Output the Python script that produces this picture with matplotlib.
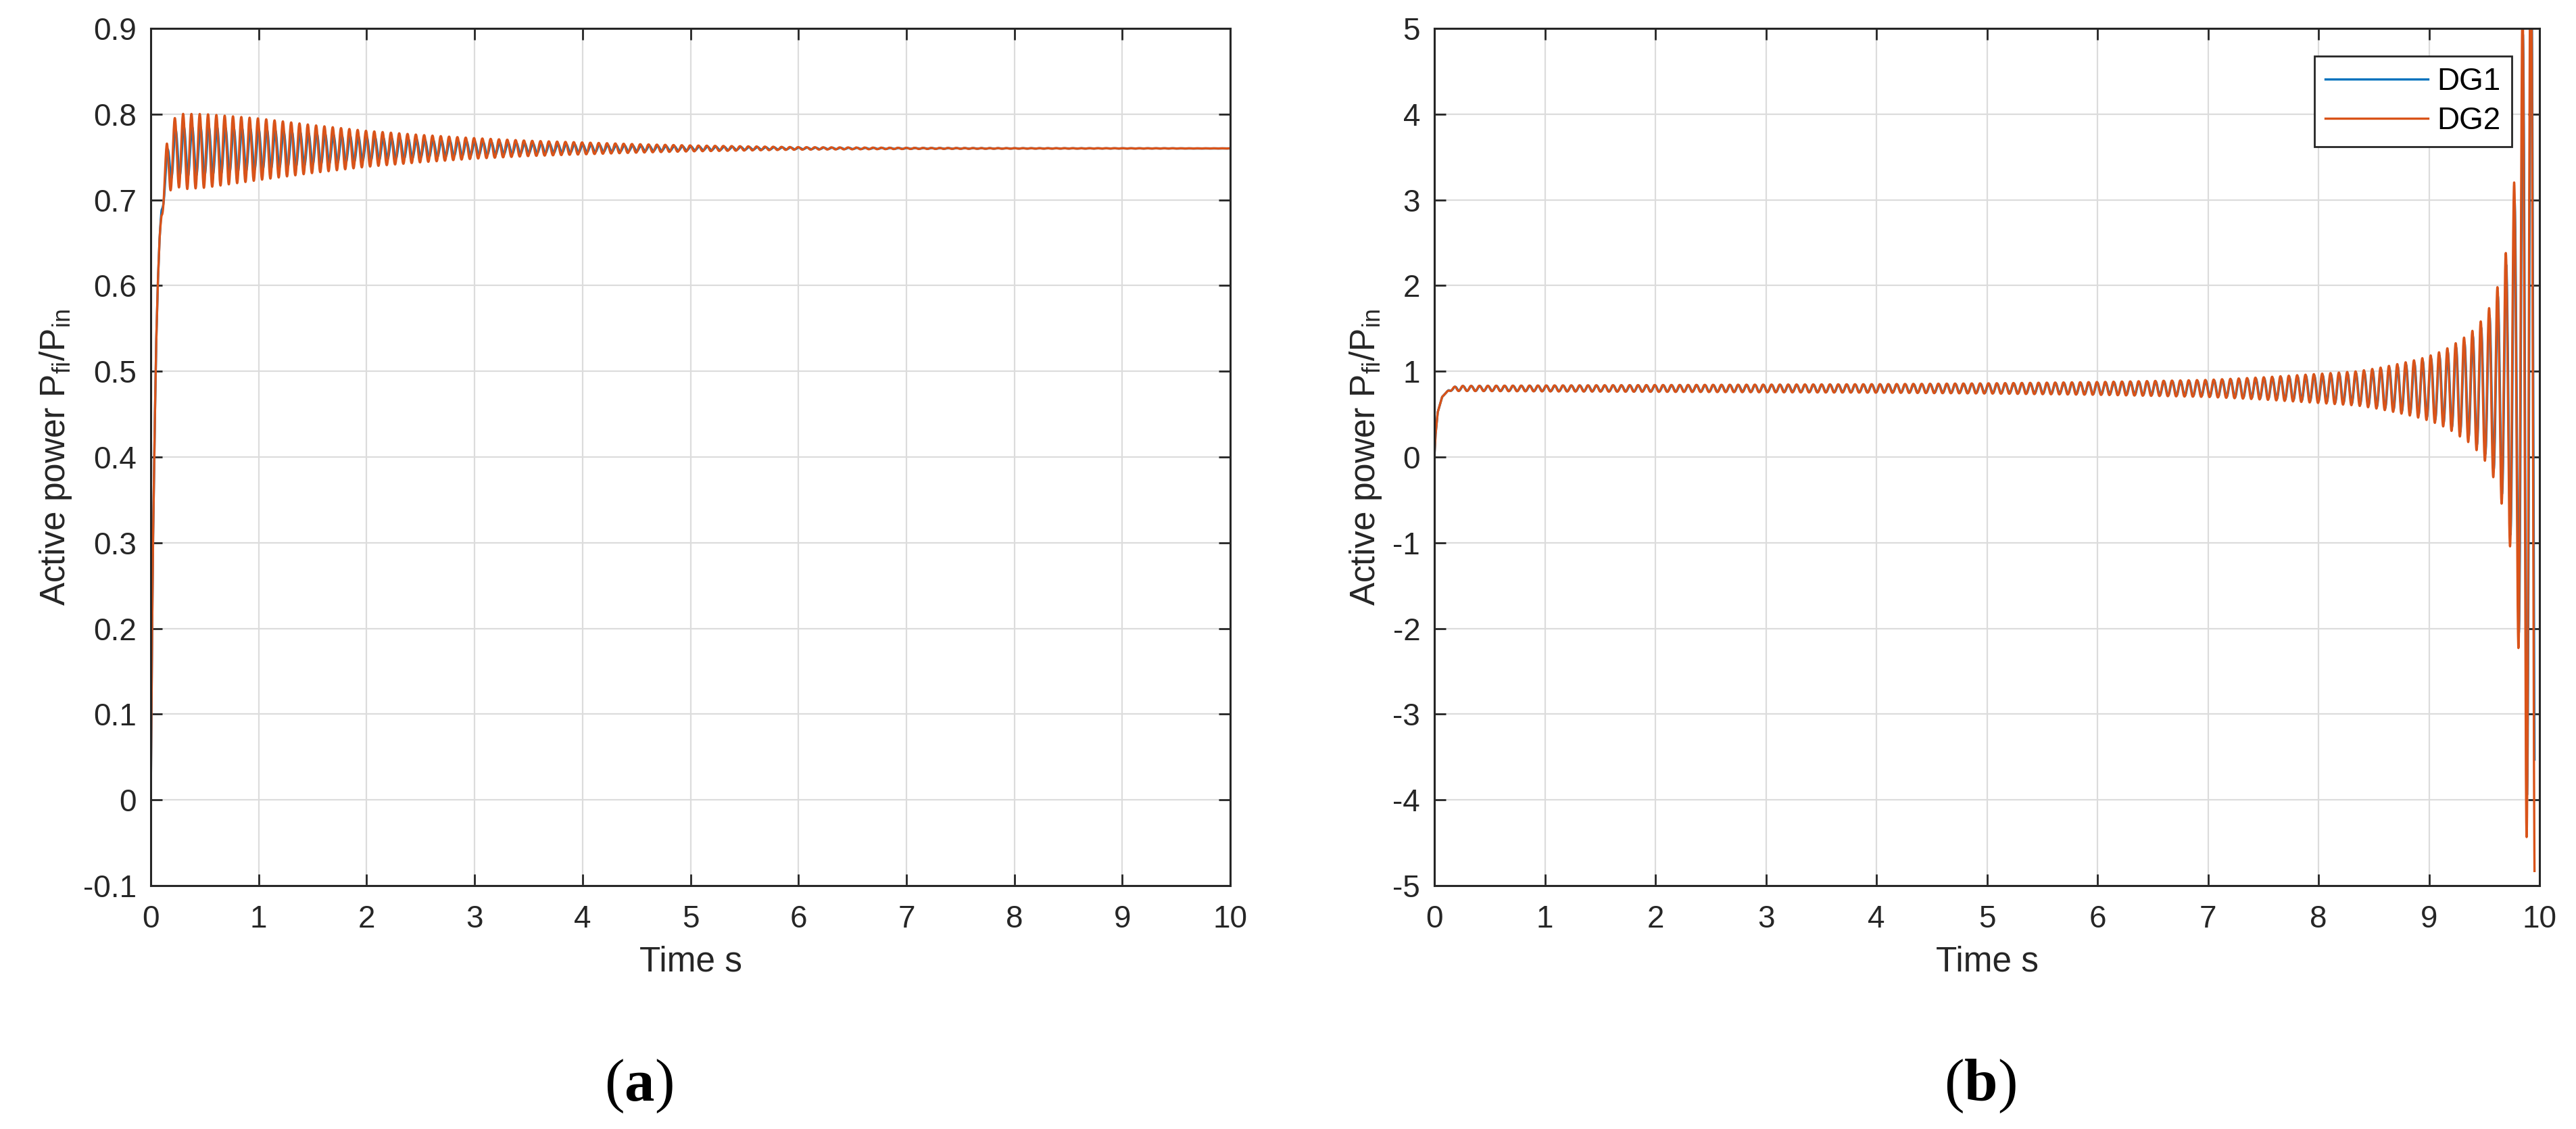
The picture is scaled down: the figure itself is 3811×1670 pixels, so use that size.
import numpy as np
import matplotlib
matplotlib.use('Agg')
import matplotlib.pyplot as plt

plt.rcParams['font.family'] = ['Liberation Sans', 'DejaVu Sans']
plt.rcParams['mathtext.fontset'] = 'custom'
plt.rcParams['mathtext.rm'] = 'Liberation Sans'
plt.rcParams['mathtext.it'] = 'Liberation Sans:italic'
plt.rcParams['mathtext.bf'] = 'Liberation Serif:bold'
plt.rcParams['axes.unicode_minus'] = False

# ---------------- data ----------------
series_names = ['DG1', 'DG2']
x_ticks = list(range(0, 11))
a_y_ticks = [-0.1, 0, 0.1, 0.2, 0.3, 0.4, 0.5, 0.6, 0.7, 0.8, 0.9]
a_y_labels = ['-0.1', '0', '0.1', '0.2', '0.3', '0.4', '0.5', '0.6', '0.7', '0.8', '0.9']
b_y_ticks = [-5, -4, -3, -2, -1, 0, 1, 2, 3, 4, 5]
b_y_labels = ['-5', '-4', '-3', '-2', '-1', '0', '1', '2', '3', '4', '5']

# (a) mean trajectory and oscillation half-amplitude (DG2)
a_end_time = 10.0
a_osc_period = 0.077
a_mean_t = [0, 0.01, 0.02, 0.035, 0.05, 0.065, 0.08, 0.10, 0.13, 0.17, 0.22, 1.0, 3.0, 10.0]
a_mean_v = [0, 0.16, 0.29, 0.42, 0.53, 0.60, 0.65, 0.69, 0.72, 0.745, 0.756, 0.759, 0.76, 0.76]
a_amp_t = [0, 0.08, 0.15, 0.3, 0.5, 1.0, 1.5, 2.0, 2.5, 3.0, 3.5, 4.0, 4.5, 5.0, 5.5, 6.0, 7.0, 8.0, 10.0]
a_amp_v = [0, 0, 0.035, 0.044, 0.043, 0.036, 0.028, 0.021, 0.016, 0.012, 0.009, 0.007,
           0.005, 0.0035, 0.0025, 0.0015, 0.0007, 0.0003, 0.0001]
a_dg1_amp_ratio = 0.65
a_dg1_phase_lag = 0.6

# (b) mean trajectory and growing oscillation half-amplitude (DG2)
b_end_time = 9.955
b_osc_period = 0.0755
b_peak_time = 9.77
b_mean_t = [0, 0.01, 0.03, 0.07, 0.13, 0.2, 0.3, 10]
b_mean_v = [0, 0.25, 0.52, 0.70, 0.78, 0.80, 0.80, 0.80]
b_amp_t = [0, 0.1, 0.2, 1, 2, 3, 4, 5, 6, 7, 7.5, 8, 8.35, 8.55, 8.7, 8.84, 8.96, 9.07, 9.14,
           9.21, 9.29, 9.36, 9.43, 9.51, 9.58, 9.65, 9.73, 9.77, 9.80, 9.85, 9.88, 9.92, 9.96]
b_amp_v = [0, 0, 0.03, 0.035, 0.04, 0.045, 0.05, 0.06, 0.075, 0.10, 0.13, 0.17, 0.20, 0.24,
           0.28, 0.32, 0.36, 0.41, 0.45, 0.5, 0.57, 0.63, 0.72, 0.85, 1.03, 1.3, 1.8, 2.4,
           2.7, 4.6, 5.2, 5.6, 6.0]
b_dg1_amp_ratio = 0.9
b_dg1_phase_lag = 0.3

colors = ['#0072BD', '#D95319']


def build(end_t, mean_t, mean_v, amp_t, amp_v, period, t_ref, ratio, lag):
    t = np.arange(0, end_t, 0.0004)
    m = np.interp(t, mean_t, mean_v)
    a = np.interp(t, amp_t, amp_v)
    ph = 2 * np.pi * (t - t_ref) / period
    dg2 = m + a * np.cos(ph)
    dg1 = m + ratio * a * np.cos(ph - lag)
    return t, dg1, dg2


ta, a1, a2 = build(a_end_time, a_mean_t, a_mean_v, a_amp_t, a_amp_v, a_osc_period, 0.3,
                   a_dg1_amp_ratio, a_dg1_phase_lag)
tb, b1, b2 = build(b_end_time, b_mean_t, b_mean_v, b_amp_t, b_amp_v, b_osc_period, b_peak_time,
                   b_dg1_amp_ratio, b_dg1_phase_lag)

W, H = 3811, 1670
fig = plt.figure(figsize=(W / 100, H / 100), dpi=100)
axA = fig.add_axes([223 / W, 360 / H, 1597 / W, 1268 / H])
axB = fig.add_axes([2122 / W, 360 / H, 1635 / W, 1268 / H])

ink = '#262626'
ylab = r'Active power P$_{\mathrm{fi}}$/P$_{\mathrm{in}}$'

for ax, t, y1, y2, yt, yl, ylim in [(axA, ta, a1, a2, a_y_ticks, a_y_labels, (-0.1, 0.9)),
                                    (axB, tb, b1, b2, b_y_ticks, b_y_labels, (-5, 5))]:
    ax.plot(t, y1, color=colors[0], lw=2.4, label=series_names[0])
    ax.plot(t, y2, color=colors[1], lw=2.4, label=series_names[1])
    ax.set_xlim(0, 10)
    ax.set_ylim(*ylim)
    ax.set_xticks(x_ticks)
    ax.set_yticks(yt)
    ax.set_yticklabels(yl)
    ax.grid(True, color='#dcdcdc', lw=1.6)
    ax.set_axisbelow(True)
    for s in ax.spines.values():
        s.set_color(ink)
        s.set_linewidth(2.2)
    ax.tick_params(direction='in', length=12, width=2, top=True, right=True,
                   labelsize=33, colors=ink, labelcolor=ink)
    ax.tick_params(axis='x', pad=20)
    ax.tick_params(axis='y', pad=15)
    ax.set_xlabel('Time s', fontsize=37, color=ink, labelpad=12)
    ax.set_ylabel(ylab, fontsize=37, color=ink, labelpad=10)

leg = axB.legend(loc='upper right', fontsize=33, frameon=True, fancybox=False,
                 edgecolor=ink, framealpha=1, handlelength=3.3, handletextpad=0.3,
                 borderpad=0.35, labelspacing=0.3, borderaxespad=0.9)
leg.get_frame().set_linewidth(2)
for line in leg.get_lines():
    line.set_linewidth(2.4)
for txt in leg.get_texts():
    txt.set_color('black')

fig.text(945 / W, 42 / H, r'($\mathbf{a}$)', family='Liberation Serif', fontsize=64,
         ha='center', va='baseline')
fig.text(2929 / W, 42 / H, r'($\mathbf{b}$)', family='Liberation Serif', fontsize=64,
         ha='center', va='baseline')

fig.savefig('out.png', dpi=100, facecolor='white')
